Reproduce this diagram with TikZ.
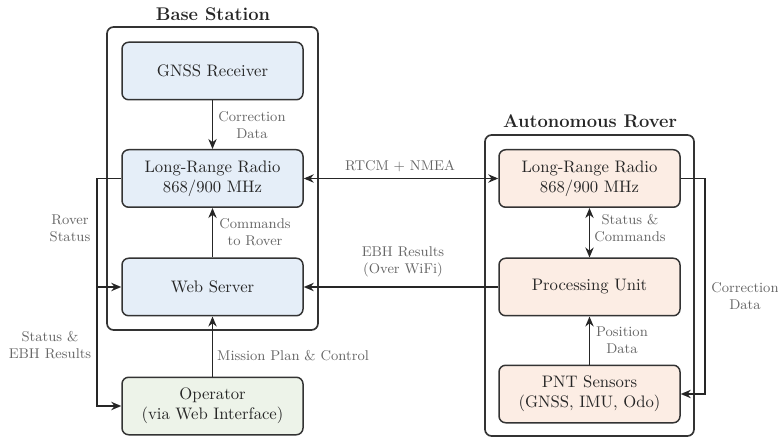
\documentclass[tikz,border=0pt]{standalone}
\usetikzlibrary{arrows.meta,positioning}
\definecolor{bfill}{HTML}{E5EEF8}
\definecolor{rfill}{HTML}{FCEDE4}
\definecolor{gfill}{HTML}{EDF3E9}
\definecolor{edge}{HTML}{333333}
\definecolor{lbl}{HTML}{666666}
\begin{document}
\begin{tikzpicture}[x=0.6pt,y=-0.6pt,
  box/.style={draw=edge,line width=0.9pt,rounded corners=4pt,minimum width=108.6pt,minimum height=34.5pt,align=center,font=\fontsize{10}{12}\selectfont,text=black!85},
  bbox/.style={box,fill=bfill},
  rbox/.style={box,fill=rfill},
  gbox/.style={box,fill=gfill},
  cont/.style={draw=edge,line width=1pt,rounded corners=4pt},
  ttl/.style={font=\fontsize{11}{13}\selectfont\bfseries,text=black!85},
  conn/.style={draw=black!85,line width=1.1pt,-{Stealth[length=6pt,width=5pt]}},
  bconn/.style={conn,{Stealth[length=6pt,width=5pt]}-{Stealth[length=6pt,width=5pt]}},
  lab/.style={font=\fontsize{8.5}{10}\selectfont,text=lbl,align=center}]
\useasboundingbox (0,0) rectangle (778,437);
% containers
\draw[cont] (107,27) rectangle (318,330);
\draw[cont] (485,135) rectangle (694,436);
\node[ttl] (tbase) at (213,14) {Base Station};
\node[ttl] (trover) at (590,121) {Autonomous Rover};
% base nodes
\node[bbox] (gnss) at (212.5,71) {GNSS Receiver};
\node[bbox] (bradio) at (212.5,178.5) {Long-Range Radio\\868/900 MHz};
\node[bbox] (web) at (212.5,287) {Web Server};
\node[gbox] (op) at (212.5,406) {Operator\\(via Web Interface)};
% rover nodes
\node[rbox] (rradio) at (589.5,178.5) {Long-Range Radio\\868/900 MHz};
\node[rbox] (proc) at (589.5,287) {Processing Unit};
\node[rbox] (pnt) at (589.5,394) {PNT Sensors\\(GNSS, IMU, Odo)};
% coordinates
\coordinate (lx) at (97,178.5);
\coordinate (rx) at (705,178.5);
% connectors
\draw[conn] (gnss) -- (bradio);
\draw[conn] (web) -- (bradio);
\draw[conn] (op) -- (web);
\draw[bconn] (bradio) -- (rradio);
\draw[conn] (proc) -- (web);
\draw[bconn] (rradio) -- (proc);
\draw[conn] (pnt) -- (proc);
\draw[conn] (rradio.east) -- (rx) |- (pnt.east);
\draw[conn] (bradio.west) -- (lx) |- (web.west);
\draw[conn] (lx) |- (op.west);
% labels
\node[lab] (l1) at (252,125) {Correction\\Data};
\node[lab] (l2) at (255,232) {Commands\\to Rover};
\node[lab] (l3) at (293,356) {Mission Plan \& Control};
\node[lab] (l4) at (400,166) {RTCM + NMEA};
\node[lab] (l5) at (403,262) {EBH Results\\(Over WiFi)};
\node[lab] (l6) at (630,228) {Status \&\\Commands};
\node[lab] (l7) at (622,340) {Position\\Data};
\node[lab] (l8) at (745,296) {Correction\\Data};
\node[lab] (l9) at (70,228) {Rover\\Status};
\node[lab] (l10) at (50,345) {Status \&\\EBH Results};
\end{tikzpicture}
\end{document}
